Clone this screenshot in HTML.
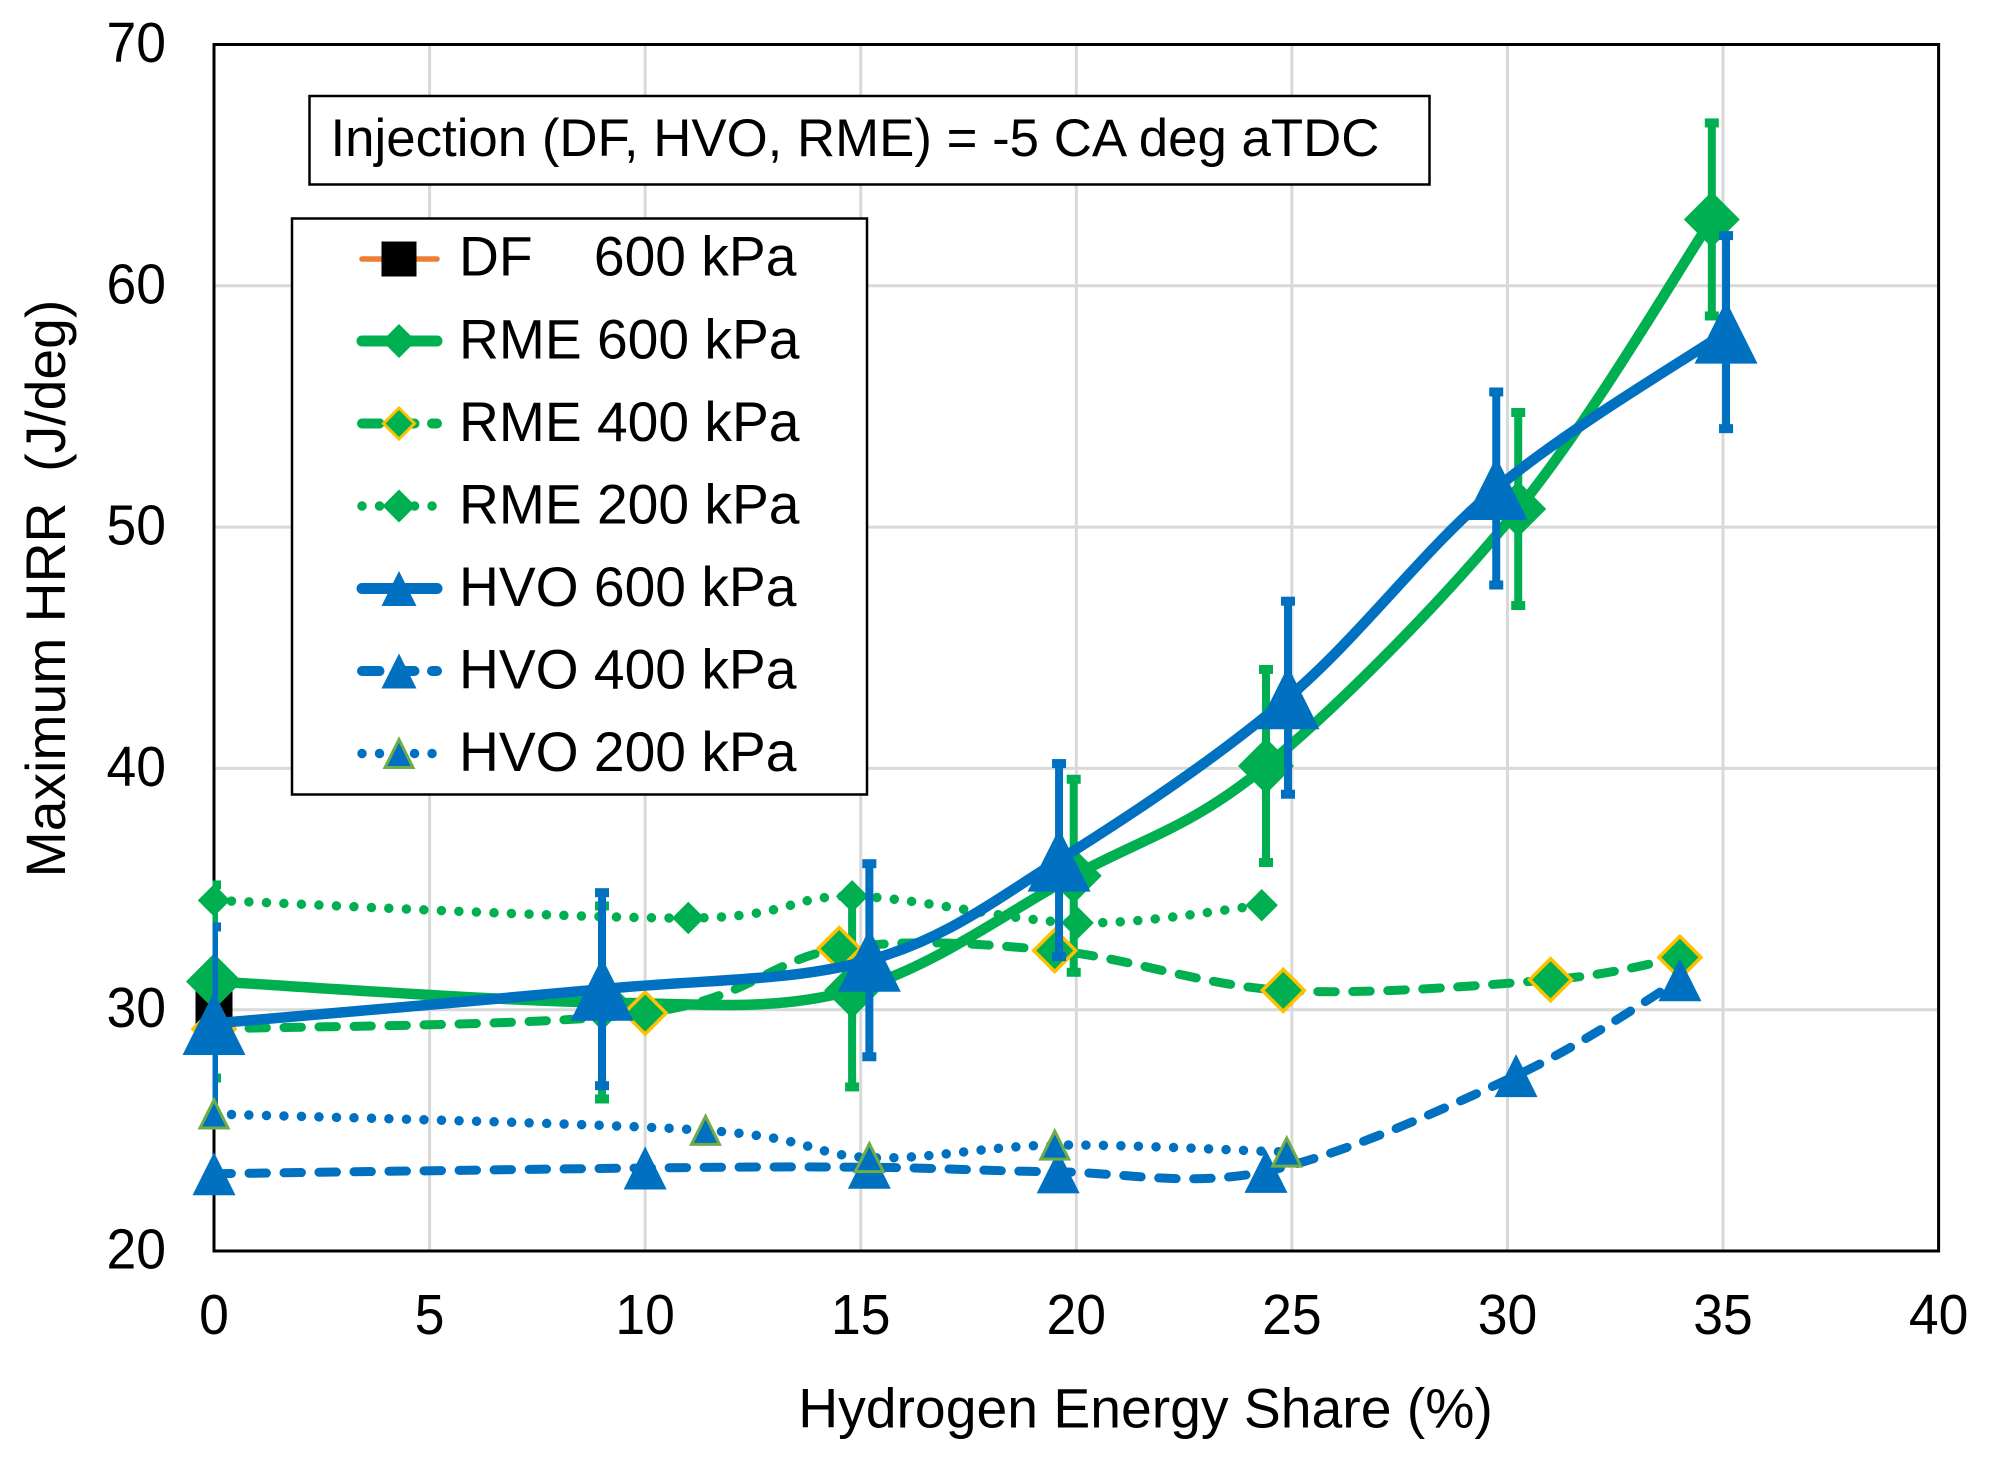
<!DOCTYPE html>
<html>
<head>
<meta charset="utf-8">
<title>Maximum HRR vs Hydrogen Energy Share</title>
<style>
html,body{margin:0;padding:0;background:#fff;}
svg{display:block;}
text{font-family:"Liberation Sans",sans-serif;fill:#000;white-space:pre;}
</style>
</head>
<body>
<svg id="chart" xmlns="http://www.w3.org/2000/svg" width="2004" height="1470" viewBox="0 0 2004 1470">
  <rect x="0" y="0" width="2004" height="1470" fill="#fff"/>
  <defs><clipPath id="plot-clip"><rect x="212.5" y="43" width="1728" height="1210"/></clipPath></defs>
  <g id="grid"></g>
  <g id="ticks"></g>
  <rect x="214" y="44.5" width="1724.6" height="1206.5" fill="none" stroke="#000" stroke-width="3"/>
  <g id="series"></g>
  <text transform="translate(65,588.5) rotate(-90)" text-anchor="middle" font-size="55.3">Maximum HRR  (J/deg)</text>
  <text x="1145.5" y="1427.5" text-anchor="middle" font-size="55.3">Hydrogen Energy Share (%)</text>
  <g>
    <rect x="309.5" y="96" width="1120" height="88.5" fill="#fff" stroke="#000" stroke-width="2.5"/>
    <text x="330.5" y="156" font-size="52.8">Injection (DF, HVO, RME) = -5 CA deg aTDC</text>
  </g>
  <g id="legend">
    <rect x="292" y="218.5" width="575" height="576" fill="#fff" stroke="#000" stroke-width="2.5"/>
    <text x="459" y="275.5" font-size="55.2">DF    600 kPa</text>
    <text x="459" y="358.5" font-size="55.2">RME 600 kPa</text>
    <text x="459" y="441" font-size="55.2">RME 400 kPa</text>
    <text x="459" y="523.5" font-size="55.2">RME 200 kPa</text>
    <text x="459" y="606" font-size="55.2">HVO 600 kPa</text>
    <text x="459" y="688.5" font-size="55.2">HVO 400 kPa</text>
    <text x="459" y="771" font-size="55.2">HVO 200 kPa</text>
  </g>
</svg>
<script>
/* ---------- chart data ---------- */
const xTickLabels = [0, 5, 10, 15, 20, 25, 30, 35, 40];
const yTickLabels = [20, 30, 40, 50, 60, 70];

const hesDf600 = [0];
const hrrDf600 = [30];

const hesRme600 = [0, 9, 14.8, 19.94, 24.4, 30.25, 34.74];
const hrrRme600 = [31.17, 30.3, 30.8, 35.55, 40.1, 50.75, 62.75];
const errRme600 = [4, 4, 4, 4, 4, 4, 4];

const hesRme400 = [0, 10, 14.5, 19.5, 24.8, 31, 34];
const hrrRme400 = [29.2, 29.86, 32.53, 32.45, 30.8, 31.24, 32.17];

const hesRme200 = [0, 11, 14.8, 20.03, 24.3];
const hrrRme200 = [34.53, 33.8, 34.7, 33.6, 34.33];

const hesHvo600 = [0, 9, 15.2, 19.6, 24.91, 29.74, 35.07];
const hrrHvo600 = [29.43, 30.85, 32.05, 36.2, 42.93, 51.6, 58.08];
const errHvo600 = [4, 4, 4, 4, 4, 4, 4];

const hesHvo400 = [0, 10, 15.2, 19.58, 24.4, 30.2, 34];
const hrrHvo400 = [23.2, 23.44, 23.47, 23.28, 23.3, 27.27, 31.24];

const hesHvo200 = [0, 11.4, 15.2, 19.5, 24.88];
const hrrHvo200 = [25.68, 25, 23.87, 24.39, 24.1];

/* ---------- axes ---------- */
const NS = 'http://www.w3.org/2000/svg';
const plotLeft = 214, plotRight = 1938.6, plotTop = 44.5, plotBottom = 1251;
const xMin = 0, xMax = 40, yMin = 20, yMax = 70;
function xScale(v) { return plotLeft + (v - xMin) / (xMax - xMin) * (plotRight - plotLeft); }
function yScale(v) { return plotBottom - (v - yMin) / (yMax - yMin) * (plotBottom - plotTop); }

const GREEN = '#00B050', BLUE = '#0070C0', YELLOW = '#FFC000', OLIVE = '#70AD47', ORANGE = '#ED7D31';

function make(tag, attrs, parent) {
  const n = document.createElementNS(NS, tag);
  for (const k in attrs) n.setAttribute(k, attrs[k]);
  parent.appendChild(n);
  return n;
}

/* ---------- grid and tick labels ---------- */
const gridG = document.getElementById('grid');
const ticksG = document.getElementById('ticks');
xTickLabels.forEach(function (t) {
  const line = make('line', { x1: xScale(t), x2: xScale(t), y1: plotTop, y2: plotBottom, stroke: '#D9D9D9', 'stroke-width': 3 }, gridG);
  
  
  const label = make('text', { transform: 'translate(' + xScale(t) + ',' + (plotBottom + 83) + ') scale(1,1.05)', 'text-anchor': 'middle', 'font-size': 53.5 }, ticksG);
  
  
  label.textContent = t;
});
yTickLabels.forEach(function (t) {
  const line = make('line', { x1: plotLeft, x2: plotRight, y1: yScale(t), y2: yScale(t), stroke: '#D9D9D9', 'stroke-width': 3 }, gridG);
  
  
  const label = make('text', { transform: 'translate(166,' + (yScale(t) + 17.5) + ') scale(1,1.05)', 'text-anchor': 'end', 'font-size': 53.5 }, ticksG);
  
  
  label.textContent = t;
});

/* ---------- marker and line helpers ---------- */
function smoothPath(pts) {
  let d = 'M' + pts[0][0] + ' ' + pts[0][1];
  for (let i = 0; i < pts.length - 1; i++) {
    const p0 = pts[Math.max(i - 1, 0)], p1 = pts[i], p2 = pts[i + 1], p3 = pts[Math.min(i + 2, pts.length - 1)];
    const c1x = p1[0] + (p2[0] - p0[0]) / 6, c1y = p1[1] + (p2[1] - p0[1]) / 6;
    const c2x = p2[0] - (p3[0] - p1[0]) / 6, c2y = p2[1] - (p3[1] - p1[1]) / 6;
    d += ' C' + c1x + ' ' + c1y + ' ' + c2x + ' ' + c2y + ' ' + p2[0] + ' ' + p2[1];
  }
  return d;
}
function marker(parent, kind, cx, cy, size, fill, stroke, sw) {
  const h = size / 2;
  let el;
  if (kind === 'diamond') {
    el = make('polygon', { points: cx + ',' + (cy - h) + ' ' + (cx + h) + ',' + cy + ' ' + cx + ',' + (cy + h) + ' ' + (cx - h) + ',' + cy }, parent);
  } else if (kind === 'triangle') {
    el = make('polygon', { points: cx + ',' + (cy - h) + ' ' + (cx + h) + ',' + (cy + h) + ' ' + (cx - h) + ',' + (cy + h) }, parent);
  } else {
    el = make('rect', { x: cx - h, y: cy - h, width: size, height: size }, parent);
  }
  el.setAttribute('fill', fill);
  if (stroke) {
    el.setAttribute('stroke', stroke);
    el.setAttribute('stroke-width', sw);
  }
  return el;
}
const seriesG = document.getElementById('series');

function errorBars(parent, hes, hrr, err, color, name) {
  hes.forEach(function (x, i) {
    const g = make('g', { 'clip-path': 'url(#plot-clip)' }, parent);
    
    
    const px = xScale(x), top = yScale(hrr[i] + err[i]), bot = yScale(hrr[i] - err[i]);
    make('line', { x1: px, x2: px, y1: top, y2: bot, stroke: color, 'stroke-width': 8 }, g);
    make('rect', { x: px - 7, y: top - 4.5, width: 14, height: 9, fill: color }, g);
    make('rect', { x: px - 7, y: bot - 4.5, width: 14, height: 9, fill: color }, g);
  });
}
function seriesLine(parent, hes, hrr, color, width, dash, name) {
  const pts = hes.map(function (x, i) { return [xScale(x), yScale(hrr[i])]; });
  const p = make('path', { d: smoothPath(pts), fill: 'none', stroke: color, 'stroke-width': width, 'stroke-linecap': 'round', 'stroke-linejoin': 'round' }, parent);
  
  
  if (dash) p.setAttribute('stroke-dasharray', dash);
}
function seriesMarkers(parent, hes, hrr, kind, size, fill, stroke, sw, name) {
  hes.forEach(function (x, i) {
    const m = marker(parent, kind, xScale(x), yScale(hrr[i]), size, fill, stroke, sw);
    
    
  });
}

/* ---------- series, back to front ---------- */
const DASH = '17.5 17.5', DOT = '0.01 17.5';

const gDf = make('g', {}, seriesG);


seriesMarkers(gDf, hesDf600, hrrDf600, 'square', 37, '#000', null, 0, 'df-600');

const gR6 = make('g', {}, seriesG);


errorBars(gR6, hesRme600, hrrRme600, errRme600, GREEN, 'rme-600');
seriesLine(gR6, hesRme600, hrrRme600, GREEN, 10.5, null, 'rme-600');
seriesMarkers(gR6, hesRme600, hrrRme600, 'diamond', 56, GREEN, null, 0, 'rme-600');

const gR4 = make('g', {}, seriesG);


seriesLine(gR4, hesRme400, hrrRme400, GREEN, 9, DASH, 'rme-400');
seriesMarkers(gR4, hesRme400, hrrRme400, 'diamond', 42, GREEN, YELLOW, 3.5, 'rme-400');

const gR2 = make('g', {}, seriesG);


seriesLine(gR2, hesRme200, hrrRme200, GREEN, 9.5, DOT, 'rme-200');
seriesMarkers(gR2, hesRme200, hrrRme200, 'diamond', 31, GREEN, GREEN, 1, 'rme-200');

const gH6 = make('g', {}, seriesG);


errorBars(gH6, hesHvo600, hrrHvo600, errHvo600, BLUE, 'hvo-600');
seriesLine(gH6, hesHvo600, hrrHvo600, BLUE, 10.5, null, 'hvo-600');
seriesMarkers(gH6, hesHvo600, hrrHvo600, 'triangle', 63, BLUE, null, 0, 'hvo-600');

const gH4 = make('g', {}, seriesG);


seriesLine(gH4, hesHvo400, hrrHvo400, BLUE, 9, DASH, 'hvo-400');
seriesMarkers(gH4, hesHvo400, hrrHvo400, 'triangle', 43, BLUE, null, 0, 'hvo-400');

const gH2 = make('g', {}, seriesG);


seriesLine(gH2, hesHvo200, hrrHvo200, BLUE, 9.5, DOT, 'hvo-200');
seriesMarkers(gH2, hesHvo200, hrrHvo200, 'triangle', 28, BLUE, OLIVE, 3, 'hvo-200');

/* ---------- legend swatches ---------- */
const legendG = document.getElementById('legend');
function swatch(cy, color, width, dash, kind, size, fill, stroke, sw, name) {
  const g = make('g', {}, legendG);
  
  
  const ln = make('line', { x1: 362, x2: 437, y1: cy, y2: cy, stroke: color, 'stroke-width': width, 'stroke-linecap': 'round' }, g);
  if (dash) ln.setAttribute('stroke-dasharray', dash);
  marker(g, kind, 399, cy, size, fill, stroke, sw);
}
swatch(259, ORANGE, 5.5, null, 'square', 35, '#000', null, 0, 'legend-swatch-df-600');
swatch(341, GREEN, 11, null, 'diamond', 34, GREEN, null, 0, 'legend-swatch-rme-600');
swatch(423.5, GREEN, 10, DASH, 'diamond', 31, GREEN, YELLOW, 3, 'legend-swatch-rme-400');
swatch(506, GREEN, 9.5, DOT, 'diamond', 33, GREEN, null, 0, 'legend-swatch-rme-200');
swatch(588.5, BLUE, 11, null, 'triangle', 35, BLUE, null, 0, 'legend-swatch-hvo-600');
swatch(671, BLUE, 10, DASH, 'triangle', 35, BLUE, null, 0, 'legend-swatch-hvo-400');
swatch(753.5, BLUE, 9.5, DOT, 'triangle', 28, BLUE, OLIVE, 3, 'legend-swatch-hvo-200');
</script>
</body>
</html>
